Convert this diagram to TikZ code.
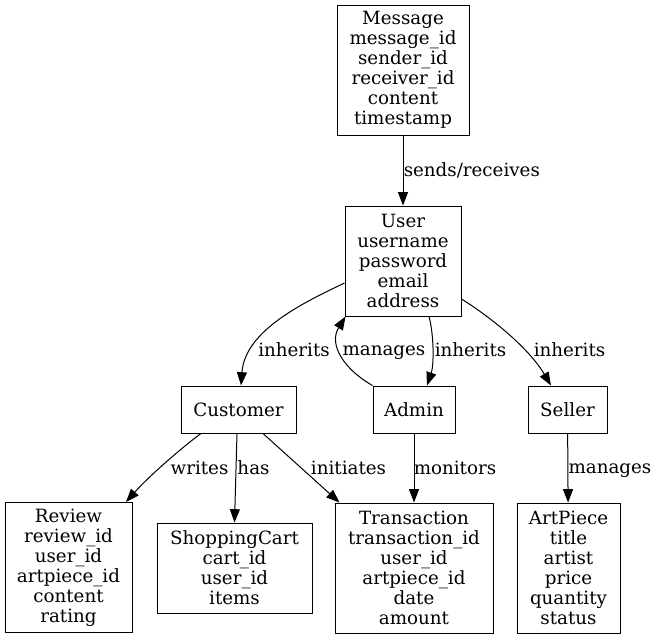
\documentclass[tikz,border=0pt]{standalone}
\usepackage{fontspec}
\setmainfont{DejaVu Serif}
\usetikzlibrary{calc,arrows.meta}
\tikzset{entity/.style = {draw, line width = 0.75pt, align = center, inner sep = 0pt, font = \fontsize{13.7}{15}\selectfont}}
\tikzset{conn/.style = {line width = 0.75pt, -{Triangle[length = 10pt, width = 7.5pt]}}}
\tikzset{lbl/.style = {inner sep = 0pt, font = \fontsize{13.7}{15}\selectfont}}

\begin{document}
\begin{tikzpicture}[x = 0.75pt, y = -0.75pt]
\useasboundingbox (0,0) rectangle (659,640);
\node[entity, minimum width = 99pt, minimum height = 97.5pt] (msg) at (403,70) {Message\\message\_id\\sender\_id\\receiver\_id\\content\\timestamp};
\node[entity, minimum width = 87pt, minimum height = 82.5pt] (user) at (403,261) {User\\username\\password\\email\\address};
\node[entity, minimum width = 86.25pt, minimum height = 35.25pt] (customer) at (238.5,409.5) {Customer};
\node[entity, minimum width = 61.5pt, minimum height = 35.25pt] (admin) at (414,409.5) {Admin};
\node[entity, minimum width = 59.25pt, minimum height = 35.25pt] (seller) at (567.5,409.5) {Seller};
\node[entity, minimum width = 95.25pt, minimum height = 97.5pt] (review) at (68.5,567.5) {Review\\review\_id\\user\_id\\artpiece\_id\\content\\rating};
\node[entity, minimum width = 116.25pt, minimum height = 67.5pt] (cart) at (234.5,568) {ShoppingCart\\cart\_id\\user\_id\\items};
\node[entity, minimum width = 118.5pt, minimum height = 97.5pt] (trans) at (414,568) {Transaction\\transaction\_id\\user\_id\\artpiece\_id\\date\\amount};
\node[entity, minimum width = 77.25pt, minimum height = 97.5pt] (art) at (568.5,568) {ArtPiece\\title\\artist\\price\\quantity\\status};
% relations
\draw[conn] (msg) -- (user);
\draw[conn] ($(user.west)+(0,22)$) .. controls (305,302) and (245,330) .. ($(customer.north)+(2.5,0)$);
\draw[conn] (admin.north west) .. controls (345,370) and (328,345) .. ($(user.south west)+(1,0)$);
\draw[conn] ($(user.south)+(26,0)$) .. controls (434,335) and (434,365) .. ($(admin.north)+(13,0)$);
\draw[conn] ($(user.east)+(0,38)$) .. controls (495,320) and (530,350) .. ($(seller.north)+(-16.5,0)$);
\draw[conn] ($(customer.south)+(-37.5,0)$) .. controls (185,445) and (150,475) .. ($(review.north)+(57.5,0)$);
\draw[conn] ($(customer.south)+(-1.5,0)$) -- (cart.north);
\draw[conn] ($(customer.south)+(24.5,0)$) -- ($(trans.north west)+(5,0)$);
\draw[conn] (admin) -- (trans);
\draw[conn] (seller) -- (art);
% labels
\node[lbl, anchor = west] (l1) at (403.5,170) {sends/receives};
\node[lbl] (l2) at (294,350) {inherits};
\node[lbl] (l3) at (384,353) {manages};
\node[lbl] (l4) at (470.5,350) {inherits};
\node[lbl] (l5) at (569.5,350) {inherits};
\node[lbl] (l6) at (199.5,468) {writes};
\node[lbl] (l7) at (253.5,468) {has};
\node[lbl] (l8) at (348.5,468) {initiates};
\node[lbl] (l9) at (455,468) {monitors};
\node[lbl] (l10) at (610,471) {manages};
\end{tikzpicture}
\end{document}
